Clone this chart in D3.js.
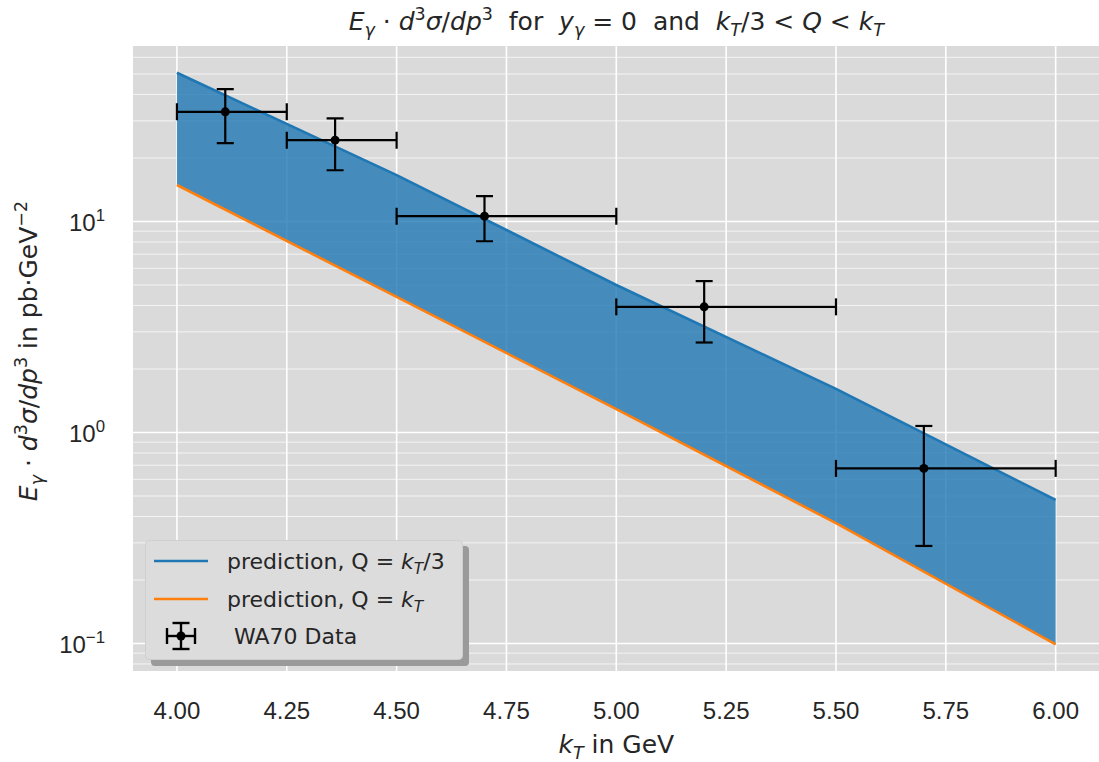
<!DOCTYPE html>
<html>
<head>
<meta charset="utf-8">
<script src="https://cdn.jsdelivr.net/npm/d3@7"></script>
<style>
  body { margin: 0; background: #fff; }
  text { white-space: pre; }
</style>
</head>
<body>
<svg id="chart" width="1099" height="762"></svg>
<script>
// prediction band (pb GeV^-2)
const kT = [4.0, 4.5, 5.0, 5.5, 6.0]
const predLow = [50.7, 16.6, 5.0, 1.61, 0.479]    // Q = kT/3
const predHigh = [14.9, 4.39, 1.29, 0.372, 0.099] // Q = kT

// WA70 data
const dataX = [4.11, 4.36, 4.70, 5.20, 5.70]
const dataY = [33.1, 24.3, 10.6, 3.94, 0.676]
const dataYLo = [23.5, 17.5, 8.06, 2.67, 0.290]
const dataYHi = [42.4, 30.8, 13.2, 5.22, 1.074]
const binLo = [4.0, 4.25, 4.5, 5.0, 5.5]
const binHi = [4.25, 4.5, 5.0, 5.5, 6.0]

const xTicks = [4.0, 4.25, 4.5, 4.75, 5.0, 5.25, 5.5, 5.75, 6.0]
const yTicks = [0.1, 1, 10]
const yTickExp = ["\u22121", "0", "1"]

const MATH = "DejaVu Sans"
const TEXT = "Liberation Sans, Arial, sans-serif"

const svg = d3.select("#chart")
const pLeft = 133, pRight = 1099.6, pTop = 46, pBottom = 671

const x = d3.scaleLinear().domain([3.9, 6.1]).range([pLeft, pRight])
const y = d3.scaleLog().domain([Math.pow(10, -1.1303), Math.pow(10, 1.8318)]).range([pBottom, pTop])

// text with sub/superscripts
var richText = function(sel, parts, size, fam) {
    let cur = 0
    parts.forEach(p => {
        const shift = p.sub ? size * 0.22 : p.sup ? -size * 0.4 : 0
        const t = sel.append("tspan")
            .text(p.t)
            .attr("dy", shift - cur)
            .style("font-size", (p.sub || p.sup) ? (size * 0.7) + "px" : size + "px")
            .style("font-family", p.m ? MATH : (fam || TEXT))
        if (p.i) t.style("font-style", "italic")
        cur = shift
    })
    return sel
}

svg.append("rect")
    .attr("x", pLeft).attr("y", pTop)
    .attr("width", pRight - pLeft).attr("height", pBottom - pTop)
    .attr("fill", "#dadada")

svg.append("clipPath").attr("id", "plotclip")
    .append("rect")
    .attr("x", pLeft).attr("y", pTop)
    .attr("width", pRight - pLeft).attr("height", pBottom - pTop)

const grid = svg.append("g").attr("clip-path", "url(#plotclip)")

// minor horizontal grid
const minor = []
for (let e = -2; e <= 1; e++) {
    for (let m = 2; m <= 9; m++) minor.push(m * Math.pow(10, e))
}
grid.selectAll("line.minor")
    .data(minor.filter(v => y(v) >= pTop && y(v) <= pBottom))
    .enter().append("line")
    .attr("class", "minor")
    .attr("x1", pLeft).attr("x2", pRight)
    .attr("y1", d => y(d)).attr("y2", d => y(d))
    .attr("stroke", "#f4f4f4").attr("stroke-width", 1)

grid.selectAll("line.ymajor")
    .data(yTicks)
    .enter().append("line")
    .attr("class", "ymajor")
    .attr("x1", pLeft).attr("x2", pRight)
    .attr("y1", d => y(d)).attr("y2", d => y(d))
    .attr("stroke", "#ffffff").attr("stroke-width", 1.6)

grid.selectAll("line.xmajor")
    .data(xTicks)
    .enter().append("line")
    .attr("class", "xmajor")
    .attr("x1", d => x(d)).attr("x2", d => x(d))
    .attr("y1", pTop).attr("y2", pBottom)
    .attr("stroke", "#ffffff").attr("stroke-width", 1.6)

// band
const band = kT.map((k, i) => ({k: k, lo: predLow[i], hi: predHigh[i]}))
const plot = svg.append("g").attr("clip-path", "url(#plotclip)")

plot.append("path")
    .datum(band)
    .attr("d", d3.area().x(d => x(d.k)).y0(d => y(d.hi)).y1(d => y(d.lo)))
    .attr("fill", "#1f77b4")
    .attr("fill-opacity", 0.8)

plot.append("path")
    .datum(band)
    .attr("d", d3.line().x(d => x(d.k)).y(d => y(d.lo)))
    .attr("fill", "none").attr("stroke", "#1f77b4").attr("stroke-width", 2.6)

plot.append("path")
    .datum(band)
    .attr("d", d3.line().x(d => x(d.k)).y(d => y(d.hi)))
    .attr("fill", "none").attr("stroke", "#ff7f0e").attr("stroke-width", 2.6)

// error bars
const pts = dataX.map((v, i) => ({x: v, y: dataY[i], ylo: dataYLo[i], yhi: dataYHi[i], xlo: binLo[i], xhi: binHi[i]}))
const cap = 8.5
const eb = plot.selectAll("g.eb").data(pts).enter().append("g")
    .attr("stroke", "#000").attr("stroke-width", 2.2)

eb.append("line")
    .attr("x1", d => x(d.xlo)).attr("x2", d => x(d.xhi))
    .attr("y1", d => y(d.y)).attr("y2", d => y(d.y))
eb.append("line")
    .attr("x1", d => x(d.x)).attr("x2", d => x(d.x))
    .attr("y1", d => y(d.ylo)).attr("y2", d => y(d.yhi))
eb.append("line")
    .attr("x1", d => x(d.x) - cap).attr("x2", d => x(d.x) + cap)
    .attr("y1", d => y(d.ylo)).attr("y2", d => y(d.ylo))
eb.append("line")
    .attr("x1", d => x(d.x) - cap).attr("x2", d => x(d.x) + cap)
    .attr("y1", d => y(d.yhi)).attr("y2", d => y(d.yhi))
eb.append("line")
    .attr("x1", d => x(d.xlo)).attr("x2", d => x(d.xlo))
    .attr("y1", d => y(d.y) - cap).attr("y2", d => y(d.y) + cap)
eb.append("line")
    .attr("x1", d => x(d.xhi)).attr("x2", d => x(d.xhi))
    .attr("y1", d => y(d.y) - cap).attr("y2", d => y(d.y) + cap)
eb.append("circle")
    .attr("cx", d => x(d.x)).attr("cy", d => y(d.y))
    .attr("r", 4.5).attr("fill", "#000").attr("stroke", "none")

// x tick labels
svg.selectAll("text.xt")
    .data(xTicks)
    .enter().append("text")
    .attr("class", "xt")
    .attr("x", d => x(d)).attr("y", 719)
    .attr("text-anchor", "middle")
    .style("font-family", TEXT).style("font-size", "24px")
    .attr("fill", "#262626")
    .text(d => d3.format(".2f")(d))

// y tick labels
yTicks.forEach((v, i) => {
    const t = svg.append("text")
        .attr("x", 105).attr("y", y(v) + 9)
        .attr("text-anchor", "end")
        .attr("fill", "#262626")
    richText(t, [{t: "10"}, {t: yTickExp[i], sup: true}], 24)
})

// title
const title = svg.append("text")
    .attr("x", (pLeft + pRight) / 2).attr("y", 30)
    .attr("text-anchor", "middle").attr("fill", "#262626")
richText(title, [
    {t: "E", i: true, m: true}, {t: "\u03b3", i: true, m: true, sub: true},
    {t: " \u00b7 ", m: true}, {t: "d", i: true, m: true}, {t: "3", m: true, sup: true},
    {t: "\u03c3", i: true, m: true}, {t: "/", m: true}, {t: "dp", i: true, m: true}, {t: "3", m: true, sup: true},
    {t: "  for  ", m: true},
    {t: "y", i: true, m: true}, {t: "\u03b3", i: true, m: true, sub: true},
    {t: " = 0", m: true},
    {t: "  and  ", m: true},
    {t: "k", i: true, m: true}, {t: "T", i: true, m: true, sub: true},
    {t: "/3 < ", m: true}, {t: "Q", i: true, m: true}, {t: " < ", m: true},
    {t: "k", i: true, m: true}, {t: "T", i: true, m: true, sub: true}
], 25)

// x axis label
const xl = svg.append("text")
    .attr("x", (pLeft + pRight) / 2).attr("y", 753)
    .attr("text-anchor", "middle").attr("fill", "#262626")
richText(xl, [{t: "k", i: true, m: true}, {t: "T", i: true, m: true, sub: true}, {t: " in GeV", m: true}], 25)

// y axis label
const yl = svg.append("text")
    .attr("transform", "translate(37,351) rotate(-90)")
    .attr("text-anchor", "middle").attr("fill", "#262626")
richText(yl, [
    {t: "E", i: true, m: true}, {t: "\u03b3", i: true, m: true, sub: true},
    {t: " \u00b7 ", m: true}, {t: "d", i: true, m: true}, {t: "3", m: true, sup: true},
    {t: "\u03c3", i: true, m: true}, {t: "/", m: true}, {t: "dp", i: true, m: true}, {t: "3", m: true, sup: true},
    {t: " in pb", m: true}, {t: "\u00b7", m: true}, {t: "GeV", m: true}, {t: "\u22122", m: true, sup: true}
], 25)

// legend
const lg = svg.append("g")
lg.append("rect")
    .attr("x", 151).attr("y", 546).attr("width", 318).attr("height", 120)
    .attr("rx", 4).attr("fill", "#9a9a9a")
lg.append("rect")
    .attr("x", 145.5).attr("y", 540.5).attr("width", 317).attr("height", 119)
    .attr("rx", 4).attr("fill", "#dcdcdc").attr("stroke", "#cfcfcf").attr("stroke-width", 1)

const legendItems = [
    {color: "#1f77b4", label: [{t: "prediction, Q = "}, {t: "k", i: true, m: true}, {t: "T", i: true, m: true, sub: true}, {t: "/3", m: true}]},
    {color: "#ff7f0e", label: [{t: "prediction, Q = "}, {t: "k", i: true, m: true}, {t: "T", i: true, m: true, sub: true}]},
    {color: null, label: [{t: " WA70 Data"}]}
]
legendItems.forEach((it, i) => {
    const cy = 561 + i * 38
    if (it.color) {
        lg.append("line")
            .attr("x1", 154).attr("x2", 208).attr("y1", cy).attr("y2", cy)
            .attr("stroke", it.color).attr("stroke-width", 2.6)
    } else {
        const g = lg.append("g").attr("stroke", "#000").attr("stroke-width", 2.4)
        const cx = 181, c = 636
        g.append("line").attr("x1", cx - 14).attr("x2", cx + 14).attr("y1", c).attr("y2", c)
        g.append("line").attr("x1", cx).attr("x2", cx).attr("y1", c - 13).attr("y2", c + 13)
        g.append("line").attr("x1", cx - 8.5).attr("x2", cx + 8.5).attr("y1", c - 13).attr("y2", c - 13)
        g.append("line").attr("x1", cx - 8.5).attr("x2", cx + 8.5).attr("y1", c + 13).attr("y2", c + 13)
        g.append("line").attr("x1", cx - 14).attr("x2", cx - 14).attr("y1", c - 8).attr("y2", c + 8)
        g.append("line").attr("x1", cx + 14).attr("x2", cx + 14).attr("y1", c - 8).attr("y2", c + 8)
        g.append("circle").attr("cx", cx).attr("cy", c).attr("r", 4.5).attr("fill", "#000").attr("stroke", "none")
    }
    const t = lg.append("text")
        .attr("x", 227).attr("y", it.color ? cy + 8 : 644)
        .attr("fill", "#262626")
    richText(t, it.label, 22, MATH)
})
</script>
</body>
</html>
